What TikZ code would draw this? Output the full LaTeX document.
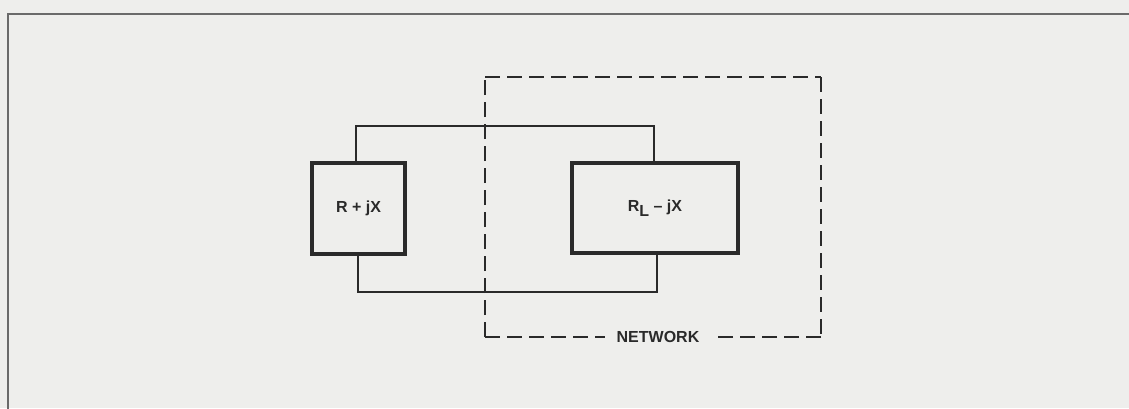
\documentclass[tikz,border=0pt]{standalone}
\usepackage{fontspec}
\setmainfont{Liberation Sans}
\definecolor{paper}{HTML}{EEEEEC}
\definecolor{ink}{HTML}{2A2A2A}
\definecolor{framec}{HTML}{6A6A6A}
\begin{document}
\begin{tikzpicture}[x=1pt,y=-1pt,
  imp/.style={draw=ink,line width=3.4pt,inner sep=0pt,outer sep=0pt,font=\bfseries\fontsize{16}{18}\selectfont,text=ink},
  wire/.style={draw=ink,line width=2.5pt},
  netbox/.style={inner sep=0pt,outer sep=0pt},
  dashline/.style={draw=ink,line width=2.5pt,dash pattern=on 15pt off 7pt},
  lbl/.style={inner xsep=11.5pt,inner ysep=4pt,font=\bfseries\fontsize{16}{18}\selectfont,text=ink}]
\fill[paper] (0,0) rectangle (1129,408);
\useasboundingbox (0,0) rectangle (1129,408);
\draw[framec,line width=2pt] (8,410) -- (8,14) -- (1131,14);
% network box
\node[netbox,minimum width=336pt,minimum height=260pt] (N) at (653,207) {};
\node[lbl] (NL) at (N.south -| 658,0) {NETWORK};
\draw[dashline] (N.north west) -- (N.north east);
\draw[dashline] (N.north east) -- (N.south east);
\draw[dashline] (N.south east) -- (N.south -| NL.east);
\draw[dashline] (N.south west) -- (N.south -| NL.west);
\draw[dashline] (N.south west) -- (N.north west);
% impedances
\node[imp,minimum width=93pt,minimum height=91pt] (L) at (358.5,208.5) {R + jX};
\node[imp,minimum width=166pt,minimum height=90pt] (R) at (655,208) {R\raisebox{-5pt}{L} – jX};
% wires
\coordinate (ta) at (356,126);
\coordinate (tb) at (654,126);
\coordinate (ba) at (358,292);
\coordinate (bb) at (657,292);
\draw[wire] (L.north -| ta) |- (tb) -- (R.north -| tb);
\draw[wire] (L.south -| ba) |- (bb) -- (R.south -| bb);
\end{tikzpicture}
\end{document}
